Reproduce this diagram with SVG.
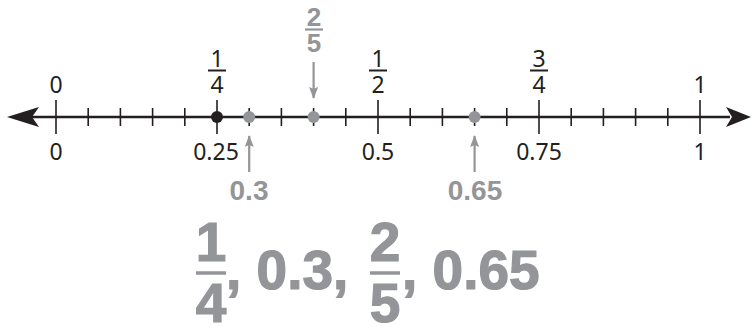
<svg xmlns="http://www.w3.org/2000/svg" width="754" height="328" viewBox="0 0 754 328">
<defs>
<style>
.lbl{font-family:"Noto Sans","Liberation Sans",sans-serif;font-size:23px;fill:#231f20;text-anchor:middle}
.g{font-family:"Liberation Sans",Arial,sans-serif;font-weight:bold;font-size:28px;fill:#939598;text-anchor:middle}
.big{font-family:"Liberation Sans",Arial,sans-serif;font-weight:bold;font-size:55px;fill:#939598;stroke:#939598;stroke-width:1.2}
.tk{stroke:#231f20;stroke-width:1.6}
.fb{stroke:#231f20;stroke-width:2}
.gl{stroke:#939598;stroke-width:2.2;fill:none}
</style>
<marker id="ga" viewBox="0 0 12 9" refX="11" refY="4.5" markerWidth="12" markerHeight="9" orient="auto" markerUnits="userSpaceOnUse">
<path d="M0,0 L12,4.5 L0,9 L2,4.5 Z" fill="#939598"/>
</marker>
</defs>
<g id="axis">
<line x1="30" y1="117" x2="730" y2="117" stroke="#231f20" stroke-width="2.6"/>
<path d="M7,117 L39,107 L32,117 L39,127 Z" fill="#231f20"/>
<path d="M751,117 L726,107 L732,117 L726,127 Z" fill="#231f20"/>
<g class="tk">
<line x1="56" y1="100" x2="56" y2="134"/>
<line x1="88.2" y1="108" x2="88.2" y2="126"/>
<line x1="120.4" y1="108" x2="120.4" y2="126"/>
<line x1="152.6" y1="108" x2="152.6" y2="126"/>
<line x1="184.8" y1="108" x2="184.8" y2="126"/>
<line x1="217" y1="100" x2="217" y2="134"/>
<line x1="249.2" y1="108" x2="249.2" y2="126"/>
<line x1="281.4" y1="108" x2="281.4" y2="126"/>
<line x1="313.6" y1="108" x2="313.6" y2="126"/>
<line x1="345.8" y1="108" x2="345.8" y2="126"/>
<line x1="378" y1="100" x2="378" y2="134"/>
<line x1="410.2" y1="108" x2="410.2" y2="126"/>
<line x1="442.4" y1="108" x2="442.4" y2="126"/>
<line x1="474.6" y1="108" x2="474.6" y2="126"/>
<line x1="506.8" y1="108" x2="506.8" y2="126"/>
<line x1="539" y1="100" x2="539" y2="134"/>
<line x1="571.2" y1="108" x2="571.2" y2="126"/>
<line x1="603.4" y1="108" x2="603.4" y2="126"/>
<line x1="635.6" y1="108" x2="635.6" y2="126"/>
<line x1="667.8" y1="108" x2="667.8" y2="126"/>
<line x1="700" y1="100" x2="700" y2="134"/>
</g>
</g>
<g id="points">
<circle cx="217" cy="117" r="6" fill="#231f20"/>
<circle cx="249.2" cy="117" r="6" fill="#939598"/>
<circle cx="313.6" cy="117" r="6" fill="#939598"/>
<circle cx="474.6" cy="117" r="6" fill="#939598"/>
</g>
<g id="top-labels">
<text class="lbl" x="56" y="93">0</text>
<text class="lbl" x="217" y="67">1</text>
<line class="fb" x1="208" y1="70.5" x2="226" y2="70.5"/>
<text class="lbl" x="217" y="93">4</text>
<text class="lbl" x="378" y="67">1</text>
<line class="fb" x1="369" y1="70.5" x2="387" y2="70.5"/>
<text class="lbl" x="378" y="93">2</text>
<text class="lbl" x="539" y="67">3</text>
<line class="fb" x1="530" y1="70.5" x2="548" y2="70.5"/>
<text class="lbl" x="539" y="93">4</text>
<text class="lbl" x="700" y="93">1</text>
</g>
<g id="bottom-labels">
<text class="lbl" x="56" y="160">0</text>
<text class="lbl" x="216" y="160">0.25</text>
<text class="lbl" x="378" y="160">0.5</text>
<text class="lbl" x="539" y="160">0.75</text>
<text class="lbl" x="700" y="160">1</text>
</g>
<g id="connectors">
<line class="gl" x1="313.6" y1="62" x2="313.6" y2="98" marker-end="url(#ga)"/>
<line class="gl" x1="249.2" y1="172" x2="249.2" y2="136" marker-end="url(#ga)"/>
<line class="gl" x1="474.6" y1="172" x2="474.6" y2="136" marker-end="url(#ga)"/>
</g>
<g id="grey-labels">
<text class="g" x="314" y="26" style="font-size:26px">2</text>
<line x1="305" y1="29.5" x2="323" y2="29.5" stroke="#939598" stroke-width="2.2"/>
<text class="g" x="314" y="52" style="font-size:26px">5</text>
<text class="g" x="249" y="200">0.3</text>
<text class="g" x="475" y="200">0.65</text>
</g>
<g id="ordered-list">
<text class="big" x="211" y="261" text-anchor="middle">1</text>
<line x1="196" y1="273" x2="226" y2="273" stroke="#939598" stroke-width="3.5"/>
<text class="big" x="211" y="322" text-anchor="middle">4</text>
<text class="big" x="226" y="289">, 0.3,</text>
<text class="big" x="385" y="261" text-anchor="middle">2</text>
<line x1="370" y1="273" x2="400" y2="273" stroke="#939598" stroke-width="3.5"/>
<text class="big" x="385" y="322" text-anchor="middle">5</text>
<text class="big" x="402" y="289">, 0.65</text>
</g>
</svg>
